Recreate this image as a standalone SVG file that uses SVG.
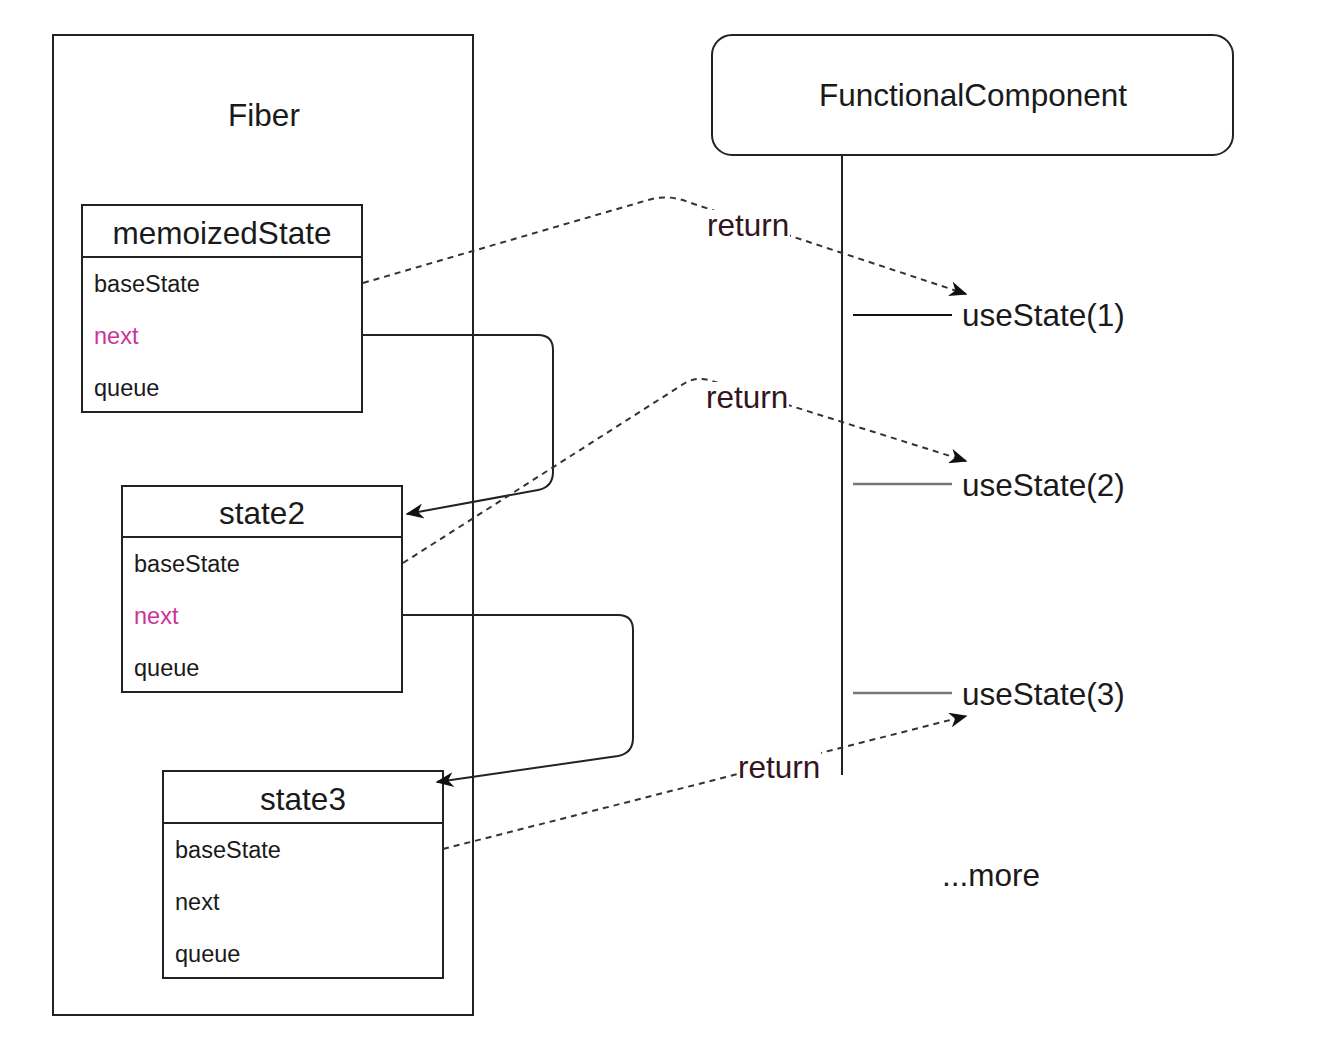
<svg xmlns="http://www.w3.org/2000/svg" width="1340" height="1052" viewBox="0 0 1340 1052">
<style>
text{font-family:"Liberation Sans",Arial,Helvetica,sans-serif;fill:#1a1a1a}
.big{font-size:31.5px}
.row{font-size:23.5px}
.pink{fill:#cc3399}
.box{fill:#fff;stroke:#222;stroke-width:2}
.ln{fill:none;stroke:#222;stroke-width:2}
.dash{fill:none;stroke:#333;stroke-width:2;stroke-dasharray:6 5}
.lbl{fill:#331520}
</style>
<defs>
<marker id="arr" viewBox="0 0 12 10" refX="11" refY="5" markerWidth="19" markerHeight="15" markerUnits="userSpaceOnUse" orient="auto">
<path d="M0,0 L12,5 L0,10 L3.5,5 z" fill="#111"/>
</marker>
</defs>
<rect width="1340" height="1052" fill="#fff"/>
<g id="fiber">
<rect class="box" x="53" y="35" width="420" height="980"/>
<text class="big" x="264" y="126" text-anchor="middle">Fiber</text>
</g>
<g id="functionalComponent">
<rect class="box" x="712" y="35" width="521" height="120" rx="20"/>
<text class="big" x="973" y="106" text-anchor="middle">FunctionalComponent</text>
<line class="ln" x1="842" y1="155" x2="842" y2="775"/>
</g>
<g id="memoizedState">
<rect class="box" x="82" y="205" width="280" height="207"/>
<line class="ln" x1="82" y1="257" x2="362" y2="257"/>
<text class="big" x="222" y="244" text-anchor="middle">memoizedState</text>
<text class="row" x="94" y="292">baseState</text>
<text class="row pink" x="94" y="344">next</text>
<text class="row" x="94" y="396">queue</text>
</g>
<g id="state2">
<rect class="box" x="122" y="486" width="280" height="206"/>
<line class="ln" x1="122" y1="537" x2="402" y2="537"/>
<text class="big" x="262" y="524" text-anchor="middle">state2</text>
<text class="row" x="134" y="572">baseState</text>
<text class="row pink" x="134" y="624">next</text>
<text class="row" x="134" y="676">queue</text>
</g>
<g id="state3">
<rect class="box" x="163" y="771" width="280" height="207"/>
<line class="ln" x1="163" y1="823" x2="443" y2="823"/>
<text class="big" x="303" y="810" text-anchor="middle">state3</text>
<text class="row" x="175" y="858">baseState</text>
<text class="row" x="175" y="910">next</text>
<text class="row" x="175" y="962">queue</text>
</g>
<g id="useState1">
<line x1="853" y1="315" x2="952" y2="315" stroke="#111" stroke-width="2"/>
<text class="big" x="962" y="326">useState(1)</text>
</g>
<g id="useState2">
<line x1="853" y1="484" x2="952" y2="484" stroke="#777" stroke-width="2.5"/>
<text class="big" x="962" y="496">useState(2)</text>
</g>
<g id="useState3">
<line x1="853" y1="693" x2="952" y2="693" stroke="#777" stroke-width="2.5"/>
<text class="big" x="962" y="705">useState(3)</text>
</g>
<g id="more">
<text class="big" x="942" y="886">...more</text>
</g>
<g id="connectors">
<path class="ln" d="M363,335 L538,335 Q553,335 553,350 L553,472 Q553,487 538,490 L407,514" marker-end="url(#arr)"/>
<path class="ln" d="M403,615 L618,615 Q633,615 633,630 L633,738 Q633,753 618,756 L437,782" marker-end="url(#arr)"/>
<path class="dash" d="M363,283 L648,200 Q668,194 688,202 L966,294" marker-end="url(#arr)"/>
<path class="dash" d="M403,563 L685,383 Q697,376 712,381 L966,461" marker-end="url(#arr)"/>
<path class="dash" d="M443,849 L966,716" marker-end="url(#arr)"/>
<rect x="706" y="210" width="84" height="30" fill="#fff"/>
<rect x="705" y="382" width="84" height="30" fill="#fff"/>
<rect x="737" y="752" width="84" height="30" fill="#fff"/>
<text class="big lbl" x="707" y="236">return</text>
<text class="big lbl" x="706" y="408">return</text>
<text class="big lbl" x="738" y="778">return</text>
</g>
</svg>
